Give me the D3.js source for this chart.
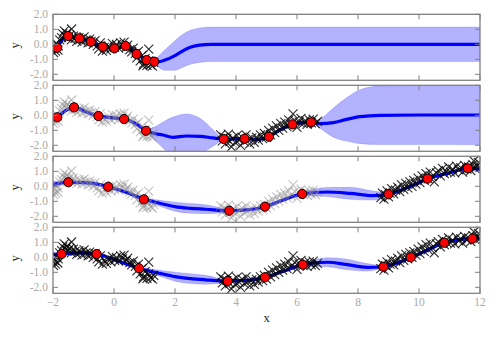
<!DOCTYPE html>
<html>
<head>
<meta charset="utf-8">
<script src="https://cdn.jsdelivr.net/npm/d3@7/dist/d3.min.js"></script>
<style>
  html, body { margin: 0; padding: 0; background: #fff; }
  svg { display: block; }
</style>
</head>
<body>
<div id="chart"></div>
<script>
// Observations, grouped in three clusters along x
const clusterA = [
  [-1.98,-0.55],[-1.95,-0.2],[-1.92,-0.45],[-1.88,0.05],[-1.84,-0.38],[-1.83,-0.1],[-1.78,0.3],
  [-1.72,0.45],[-1.68,0.7],[-1.63,0.9],[-1.58,0.55],[-1.55,0.75],[-1.5,0.45],[-1.45,0.6],
  [-1.39,1.02],[-1.4,0.3],[-1.33,0.55],[-1.28,0.4],[-1.22,0.2],[-1.15,0.45],[-1.1,0.35],
  [-1.05,0.15],[-0.98,0.5],[-0.92,0.3],[-0.85,0.1],[-0.8,0.35],[-0.75,0.2],[-0.68,0.0],
  [-0.62,0.25],[-0.55,-0.1],[-0.5,-0.3],[-0.45,0.1],[-0.38,-0.45],[-0.32,-0.2],[-0.25,-0.4],
  [-0.18,-0.1],[-0.1,-0.3],[-0.05,0.05],[0.02,-0.2],[0.08,0.0],[0.15,-0.25],[0.22,0.1],
  [0.28,-0.1],[0.33,0.15],[0.4,-0.2],[0.45,-0.05],[0.52,-0.35],[0.58,-0.5],[0.63,-0.25],
  [0.7,-0.6],[0.75,-0.9],[0.8,-0.45],[0.86,-1.1],[0.92,-0.75],[0.95,-1.43],[0.97,-1.3],
  [1.02,-0.95],[1.08,-1.4],[1.13,-1.1],[1.14,-0.32],[1.2,-1.35],[1.26,-1.45],[1.3,-1.2]
];
const clusterB = [
  [3.5,-1.3],[3.55,-1.7],[3.6,-1.45],[3.65,-1.9],[3.7,-1.55],[3.75,-1.25],[3.8,-1.75],
  [3.85,-2.1],[3.9,-1.5],[3.97,-1.8],[4.03,-1.35],[4.1,-1.65],[4.15,-2.0],[4.2,-1.45],
  [4.27,-1.75],[4.33,-1.3],[4.4,-1.6],[4.45,-1.9],[4.52,-1.5],[4.6,-1.8],[4.67,-1.45],
  [4.73,-1.65],[4.8,-1.3],[4.87,-1.55],[4.93,-1.2],[5.0,-1.45],[5.07,-1.0],[5.13,-1.3],
  [5.2,-0.85],[5.27,-1.15],[5.33,-0.7],[5.4,-1.0],[5.47,-0.55],[5.53,-0.85],[5.6,-0.45],
  [5.67,-0.75],[5.73,-0.3],[5.8,-0.6],[5.87,0.1],[5.93,-0.35],[6.0,-0.8],[6.07,-0.45],
  [6.13,-0.2],[6.2,-0.55],[6.27,-0.35],[6.33,-0.6],[6.4,-0.3],[6.47,-0.5],[6.53,-0.25],
  [6.6,-0.55],[6.67,-0.4]
];
const clusterC = [
  [8.75,-0.75],[8.8,-0.45],[8.85,-0.85],[8.9,-0.55],[8.95,-0.3],[9.0,-0.7],[9.05,-0.45],
  [9.1,-0.15],[9.17,-0.5],[9.23,-0.25],[9.3,-0.05],[9.37,-0.35],[9.43,0.1],[9.5,-0.2],
  [9.57,0.2],[9.63,-0.1],[9.7,0.3],[9.77,0.0],[9.83,0.4],[9.9,0.15],[9.97,0.55],
  [10.03,0.25],[10.1,0.7],[10.17,0.4],[10.23,0.85],[10.3,0.5],[10.37,0.95],[10.43,0.65],
  [10.5,0.3],[10.57,0.9],[10.63,1.05],[10.7,0.7],[10.77,1.2],[10.83,0.85],[10.9,1.0],
  [10.97,1.3],[11.03,0.95],[11.1,1.15],[11.17,0.9],[11.23,1.35],[11.3,1.1],[11.37,1.25],
  [11.43,0.95],[11.5,1.4],[11.57,1.15],[11.63,1.3],[11.7,1.05],[11.77,1.45],[11.8,1.7],
  [11.83,1.2],[11.9,1.35],[11.95,1.6],[12.0,1.25]
];

// Posterior mean and half-width of the band, per panel
const p1X    = [-2,-1.86,-1.7,-1.5,-1.14,-0.76,-0.37,0,0.38,0.74,1.07,1.32,1.45,1.67,2.0,2.2,2.5,2.8,3.2,4,8,12];
const p1Mean = [-0.55,-0.23,0.3,0.55,0.40,0.17,-0.16,-0.27,-0.11,-0.65,-1.05,-1.16,-1.16,-1.05,-0.75,-0.5,-0.2,-0.06,0,0,0,0];
const p1Half = [0.12,0.08,0.08,0.08,0.08,0.08,0.08,0.08,0.08,0.08,0.08,0.12,0.35,0.68,0.98,1.08,1.13,1.15,1.15,1.15,1.15,1.15];

const p2X    = [-2,-1.86,-1.6,-1.31,-0.9,-0.51,-0.13,0.33,0.69,1.05,1.3,1.6,1.93,2.38,2.82,3.25,3.6,4.28,4.68,5.08,5.44,5.85,6.15,6.46,6.75,7.19,7.63,8.07,8.72,10,12];
const p2Mean = [-0.35,-0.13,0.3,0.53,0.22,-0.05,-0.15,-0.25,-0.53,-1.03,-1.2,-1.31,-1.47,-1.38,-1.40,-1.51,-1.58,-1.56,-1.6,-1.43,-0.98,-0.6,-0.49,-0.47,-0.56,-0.49,-0.27,-0.09,0.0,0.02,0.02];
const p2Half = [0.15,0.08,0.08,0.08,0.08,0.08,0.08,0.08,0.08,0.08,0.4,0.85,1.35,1.47,1.2,0.55,0.08,0.08,0.08,0.08,0.08,0.08,0.08,0.08,0.3,0.97,1.45,1.8,1.95,1.97,1.98];

const p3X    = [-2,-1.5,-1.0,-0.5,-0.19,0.4,0.98,1.5,2.0,2.5,3.0,3.78,4.3,4.95,5.5,6.17,6.97,7.74,8.5,9.0,9.6,10.28,11.0,11.6,12];
const p3Mean = [0.12,0.27,0.25,0.13,-0.03,-0.4,-0.87,-1.13,-1.36,-1.47,-1.53,-1.63,-1.58,-1.36,-0.95,-0.51,-0.38,-0.47,-0.62,-0.53,-0.1,0.51,0.9,1.2,1.15];
const p3Half = [0.22,0.1,0.08,0.08,0.08,0.1,0.12,0.2,0.3,0.33,0.3,0.12,0.1,0.1,0.1,0.12,0.3,0.4,0.3,0.1,0.08,0.08,0.08,0.08,0.12];

const p4X    = [-2,-1.72,-1.1,-0.57,0,0.82,1.5,2.0,2.5,3.0,3.73,4.4,4.95,5.6,6.19,7.0,7.6,8.3,8.83,9.73,10.3,10.83,11.75,12];
const p4Mean = [0.18,0.22,0.3,0.22,-0.15,-0.73,-1.07,-1.29,-1.42,-1.5,-1.58,-1.53,-1.33,-0.9,-0.49,-0.33,-0.47,-0.67,-0.63,0.0,0.5,0.97,1.24,1.25];
const p4Half = [0.18,0.1,0.08,0.08,0.08,0.1,0.2,0.3,0.33,0.3,0.1,0.08,0.08,0.08,0.1,0.3,0.35,0.25,0.08,0.08,0.08,0.08,0.08,0.1];

// Selected (inducing) points, per panel
const p1Pts = [[-1.86,-0.23],[-1.50,0.55],[-1.14,0.40],[-0.76,0.17],[-0.37,-0.16],[0.01,-0.27],[0.38,-0.11],[0.74,-0.65],[1.07,-1.05],[1.32,-1.16]];
const p2Pts = [[-1.86,-0.13],[-1.31,0.53],[-0.51,-0.05],[0.33,-0.25],[1.05,-1.03],[3.60,-1.58],[4.28,-1.56],[5.08,-1.43],[5.85,-0.6],[6.46,-0.47]];
const p3Pts = [[-1.50,0.27],[-0.19,-0.03],[0.98,-0.87],[3.78,-1.63],[4.95,-1.36],[6.17,-0.51],[9.0,-0.53],[10.28,0.51],[11.6,1.2]];
const p4Pts = [[-1.72,0.22],[-0.57,0.22],[0.82,-0.73],[3.73,-1.58],[4.95,-1.33],[6.19,-0.49],[8.83,-0.63],[9.73,0.0],[10.83,0.97],[11.75,1.24]];

// Which clusters are shown dark (active) or grey (earlier) in each panel
const panels = [
  { x: p1X, mean: p1Mean, half: p1Half, pts: p1Pts, dark: [clusterA], grey: [] },
  { x: p2X, mean: p2Mean, half: p2Half, pts: p2Pts, dark: [clusterB], grey: [clusterA] },
  { x: p3X, mean: p3Mean, half: p3Half, pts: p3Pts, dark: [clusterC], grey: [clusterA, clusterB] },
  { x: p4X, mean: p4Mean, half: p4Half, pts: p4Pts, dark: [clusterA, clusterB, clusterC], grey: [] }
];

const xTicks = [-2, 0, 2, 4, 6, 8, 10, 12];
const yTicks = [-2, -1, 0, 1, 2];

const W = 496, H = 338;
const left = 53, right = 480;
const panelTop0 = 14.3, panelStep = 71, panelH = 66;

const svg = d3.select("#chart").append("svg").attr("width", W).attr("height", H);
const x = d3.scaleLinear().domain([-2, 12]).range([left, right]);

const frameColor = "#808080";
const tickText = "#aaaaaa";
const font = "'Liberation Serif', 'DejaVu Serif', serif";

const cross = (s) => `M${-s},${-s}L${s},${s}M${-s},${s}L${s},${-s}`;

panels.forEach((p, i) => {
  const top = panelTop0 + i * panelStep;
  const y = d3.scaleLinear().domain([-2.4, 2.0]).range([top + panelH, top]);
  const g = svg.append("g");

  const clipId = "clip" + i;
  svg.append("clipPath").attr("id", clipId)
    .append("rect").attr("x", left).attr("y", top).attr("width", right - left).attr("height", panelH);
  const plot = g.append("g").attr("clip-path", `url(#${clipId})`);

  const rows = p.x.map((xv, k) => ({ x: xv, m: p.mean[k], h: p.half[k] }));

  // confidence band
  plot.append("path")
    .datum(rows)
    .attr("d", d3.area().curve(d3.curveMonotoneX)
      .x(d => x(d.x)).y0(d => y(d.m - d.h)).y1(d => y(d.m + d.h)))
    .attr("fill", "#0000ff").attr("fill-opacity", 0.3)
    .attr("stroke", "#0000ff").attr("stroke-opacity", 0.15).attr("stroke-width", 1);

  // posterior mean
  plot.append("path")
    .datum(rows)
    .attr("d", d3.line().curve(d3.curveMonotoneX).x(d => x(d.x)).y(d => y(d.m)))
    .attr("fill", "none").attr("stroke", "#0000ff").attr("stroke-width", 3.2);

  // observations
  p.grey.forEach(c => {
    plot.append("g").selectAll("path").data(c).join("path")
      .attr("transform", d => `translate(${x(d[0])},${y(d[1])})`)
      .attr("d", cross(4.5))
      .attr("stroke", "#8c8c8c").attr("stroke-opacity", 0.5).attr("stroke-width", 1.2).attr("fill", "none");
  });
  p.dark.forEach(c => {
    plot.append("g").selectAll("path").data(c).join("path")
      .attr("transform", d => `translate(${x(d[0])},${y(d[1])})`)
      .attr("d", cross(4.5))
      .attr("stroke", "#000").attr("stroke-opacity", 0.8).attr("stroke-width", 1.2).attr("fill", "none");
  });

  // selected points
  plot.append("g").selectAll("circle").data(p.pts).join("circle")
    .attr("cx", d => x(d[0])).attr("cy", d => y(d[1])).attr("r", 4.6)
    .attr("fill", "#ff0000").attr("stroke", "#000").attr("stroke-width", 1);

  // inward ticks on all four sides
  const tickLen = 5;
  const tk = g.append("g").attr("stroke", frameColor).attr("stroke-width", 1);
  xTicks.forEach(t => {
    tk.append("line").attr("x1", x(t)).attr("x2", x(t)).attr("y1", top).attr("y2", top + tickLen);
    tk.append("line").attr("x1", x(t)).attr("x2", x(t)).attr("y1", top + panelH).attr("y2", top + panelH - tickLen);
  });
  yTicks.forEach(t => {
    tk.append("line").attr("x1", left).attr("x2", left + tickLen).attr("y1", y(t)).attr("y2", y(t));
    tk.append("line").attr("x1", right).attr("x2", right - tickLen).attr("y1", y(t)).attr("y2", y(t));
  });

  // frame
  g.append("rect").attr("x", left).attr("y", top).attr("width", right - left).attr("height", panelH)
    .attr("fill", "none").attr("stroke", frameColor).attr("stroke-width", 1.3);

  // y tick labels
  g.append("g").selectAll("text").data(yTicks).join("text")
    .attr("x", left - 5).attr("y", d => y(d)).attr("dy", "0.35em")
    .attr("text-anchor", "end").attr("font-family", font).attr("font-size", 11.5)
    .attr("fill", tickText).text(d => d3.format(".1f")(d).replace("−", "-"));

  // y axis title
  g.append("text")
    .attr("transform", `translate(${19},${top + panelH / 2 - 2}) rotate(-90)`)
    .attr("text-anchor", "middle").attr("font-family", font).attr("font-size", 12.5)
    .attr("fill", "#222").text("y");

  if (i === panels.length - 1) {
    g.append("g").selectAll("text").data(xTicks).join("text")
      .attr("x", d => x(d)).attr("y", top + panelH + 13)
      .attr("text-anchor", "middle").attr("font-family", font).attr("font-size", 11.5)
      .attr("fill", tickText).text(d => d < 0 ? "\u2212" + Math.abs(d) : String(d));
    g.append("text")
      .attr("x", (left + right) / 2).attr("y", top + panelH + 29)
      .attr("text-anchor", "middle").attr("font-family", font).attr("font-size", 12.5)
      .attr("fill", "#222").text("x");
  }
});
</script>
</body>
</html>
